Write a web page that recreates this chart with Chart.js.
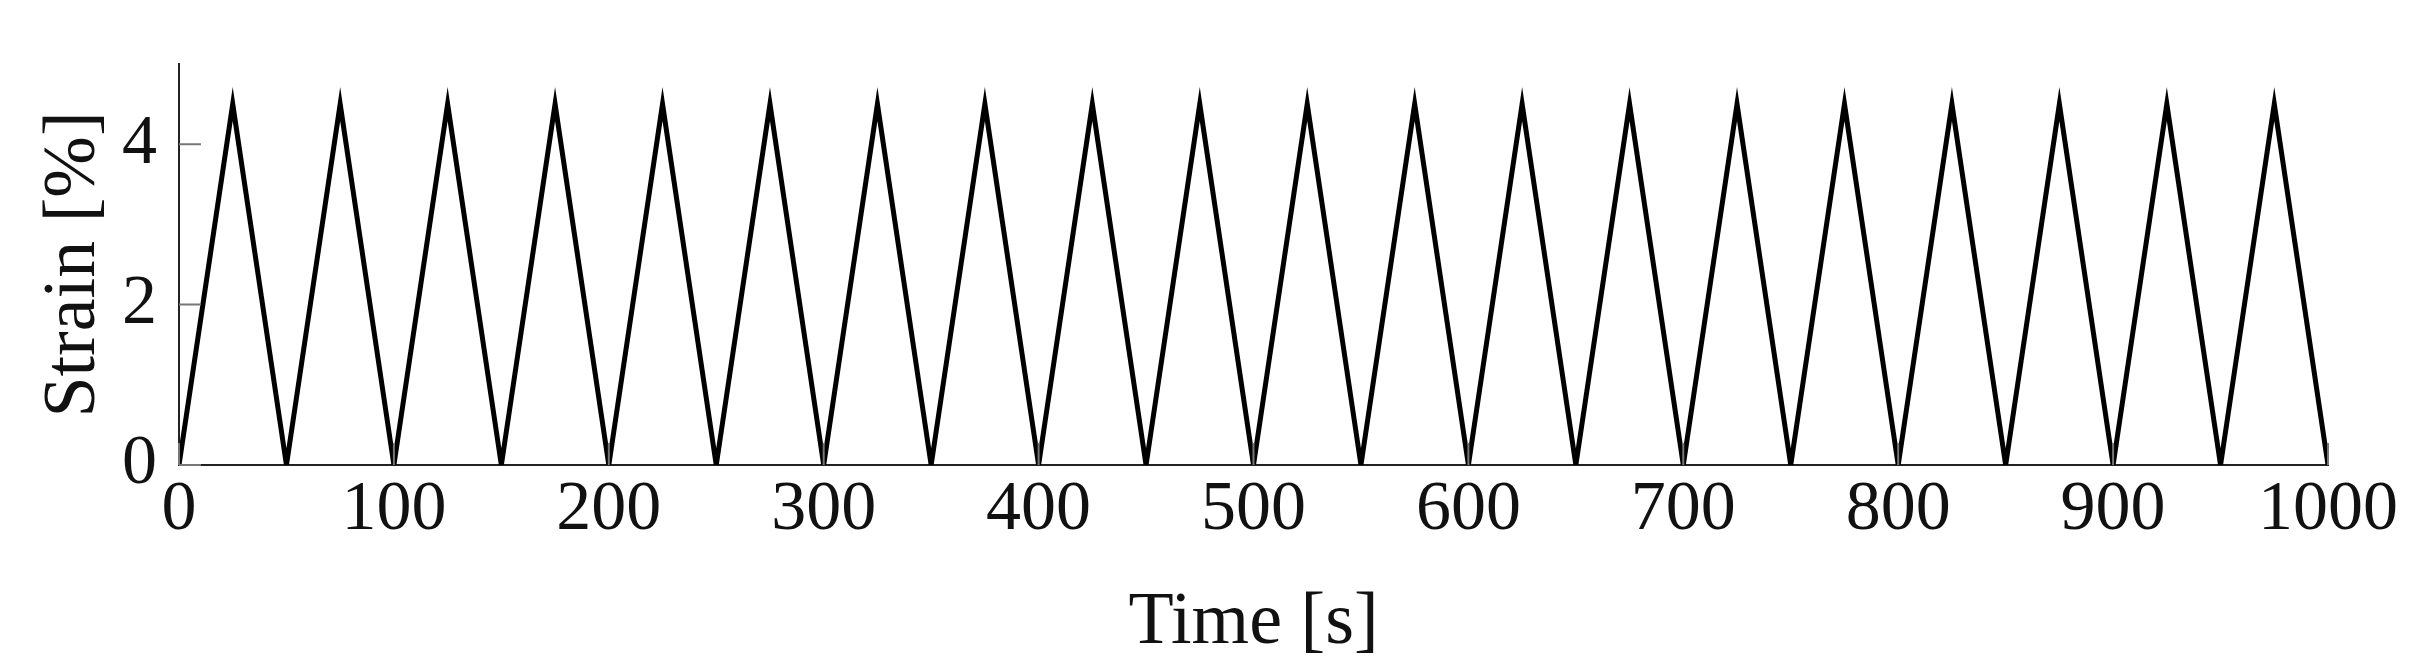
<!DOCTYPE html>
<html><head><meta charset="utf-8">
<script src="https://cdn.jsdelivr.net/npm/chart.js@4/dist/chart.umd.min.js"></script>
<style>html,body{margin:0;padding:0;background:#fff}#w{width:2409px;height:672px}</style>
</head><body><div id="w"><canvas id="c"></canvas></div>
<script>
const timeS = [0,25,50,75,100,125,150,175,200,225,250,275,300,325,350,375,400,425,450,475,500,525,550,575,600,625,650,675,700,725,750,775,800,825,850,875,900,925,950,975,1000];
const strainPct = [0,4.5,0,4.5,0,4.5,0,4.5,0,4.5,0,4.5,0,4.5,0,4.5,0,4.5,0,4.5,0,4.5,0,4.5,0,4.5,0,4.5,0,4.5,0,4.5,0,4.5,0,4.5,0,4.5,0,4.5,0];
const xTicks = [0,100,200,300,400,500,600,700,800,900,1000];
const yTicks = [0,2,4];
const font = 'Liberation Serif';
const inTicks = {id:'inTicks', afterDatasetsDraw(ch){
  const c=ch.ctx, x=ch.scales.x, y=ch.scales.y, a=ch.chartArea;
  c.save(); c.strokeStyle='#777'; c.lineWidth=2; c.beginPath();
  xTicks.forEach(v=>{const p=x.getPixelForValue(v); c.moveTo(p,a.bottom); c.lineTo(p,a.bottom-22);});
  yTicks.forEach(v=>{const p=y.getPixelForValue(v); c.moveTo(a.left,p); c.lineTo(a.left+22,p);});
  c.stroke(); c.restore();
}};
new Chart(document.getElementById('c'),{
  type:'line',
  data:{datasets:[{data:timeS.map((t,i)=>({x:t,y:strainPct[i]})),borderColor:'#000',borderWidth:5,pointRadius:0,tension:0,fill:false}]},
  options:{responsive:true,maintainAspectRatio:false,animation:false,
    layout:{padding:{top:2,right:81,left:0,bottom:0}},
    plugins:{legend:{display:false},tooltip:{enabled:false}},
    scales:{
      x:{type:'linear',min:0,max:1000,
        afterBuildTicks(s){s.ticks=xTicks.map(v=>({value:v}));},
        afterFit(s){s.height=207;},
        grid:{drawOnChartArea:false,drawTicks:false},
        border:{display:true,color:'#222',width:2},
        ticks:{color:'#111',padding:4,maxRotation:0,font:{family:font,size:70},callback:v=>String(v)},
        title:{display:true,text:'Time [s]',color:'#111',padding:{top:0},font:{family:font,size:74}}},
      y:{type:'linear',min:0,max:5,
        afterBuildTicks(s){s.ticks=yTicks.map(v=>({value:v}));},
        afterFit(s){s.width=179;},
        grid:{drawOnChartArea:false,drawTicks:false},
        border:{display:true,color:'#222',width:2},
        ticks:{color:'#111',padding:22,font:{family:font,size:70},callback:v=>String(v)},
        title:{display:true,text:'Strain [%]',color:'#111',padding:{top:30,bottom:0},font:{family:font,size:74}}}
    }},
  plugins:[inTicks]
});
</script></body></html>
